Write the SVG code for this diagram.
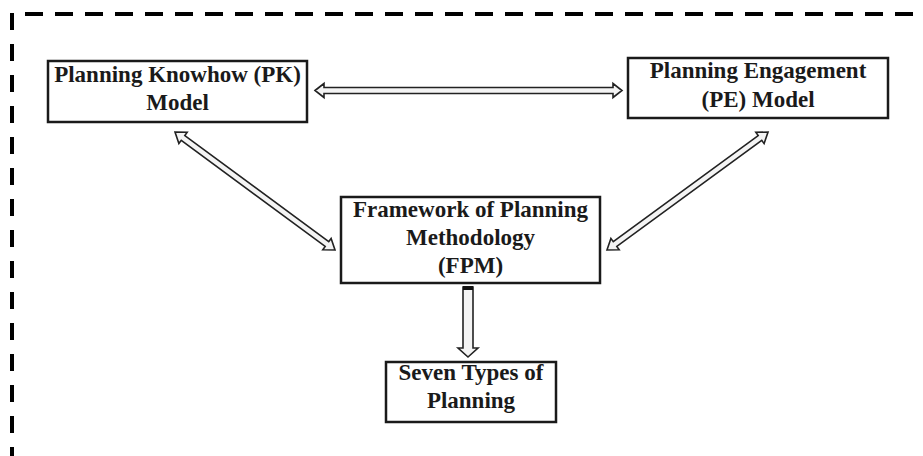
<svg xmlns="http://www.w3.org/2000/svg" width="923" height="456" viewBox="0 0 923 456">
<style>
.box{fill:#fff;stroke:#1a1a1a;stroke-width:2.5}
.lbl{font-family:"Liberation Serif","Times New Roman",serif;font-weight:bold;font-size:23px;fill:#1a1a1a;text-anchor:middle}
.arr{fill:#f4f4f4;stroke:#222;stroke-width:1.6;stroke-linejoin:miter}
.frame{stroke:#000;stroke-width:4;fill:none}
</style>
<rect width="923" height="456" fill="#fff"/>
<g id="frame">
<line class="frame" x1="25" y1="14" x2="923" y2="14" stroke-dasharray="18 12"/>
<line class="frame" x1="12" y1="13" x2="12" y2="456" stroke-dasharray="17 14"/>
</g>
<g id="connectors">
<path class="arr" transform="translate(468.5,90.5)" d="M-153.5,0 L-144.5,-7 L-144.5,-3 L144.5,-3 L144.5,-7 L153.5,0 L144.5,7 L144.5,3 L-144.5,3 L-144.5,7 Z"/>
<path class="arr" transform="translate(255,191) rotate(36.4)" d="M-99.4,0 L-89.4,-7 L-89.4,-3 L89.4,-3 L89.4,-7 L99.4,0 L89.4,7 L89.4,3 L-89.4,3 L-89.4,7 Z"/>
<path class="arr" transform="translate(687.5,191) rotate(-36.2)" d="M-99.8,0 L-89.8,-7 L-89.8,-3 L89.8,-3 L89.8,-7 L99.8,0 L89.8,7 L89.8,3 L-89.8,3 L-89.8,7 Z"/>
<path class="arr" d="M463,287 L473,287 L473,348 L478,348 L468,357 L458,348 L463,348 Z" fill="#e6e6e6"/>
<rect x="463" y="286" width="10" height="4" fill="#111"/>
</g>
<g id="pk">
<rect class="box" x="48" y="61" width="259" height="61"/>
<text class="lbl" x="177.5" y="82">Planning Knowhow (PK)</text>
<text class="lbl" x="177.5" y="110">Model</text>
</g>
<g id="pe">
<rect class="box" x="628" y="58" width="260" height="60"/>
<text class="lbl" x="758" y="78">Planning Engagement</text>
<text class="lbl" x="758" y="107">(PE) Model</text>
</g>
<g id="fpm">
<rect class="box" x="341" y="197" width="259" height="86"/>
<text class="lbl" x="470.5" y="217">Framework of Planning</text>
<text class="lbl" x="470.5" y="245">Methodology</text>
<text class="lbl" x="470.5" y="273">(FPM)</text>
</g>
<g id="seven">
<rect class="box" x="386" y="362" width="170" height="60"/>
<text class="lbl" x="471" y="380">Seven Types of</text>
<text class="lbl" x="471" y="408">Planning</text>
</g>
</svg>
